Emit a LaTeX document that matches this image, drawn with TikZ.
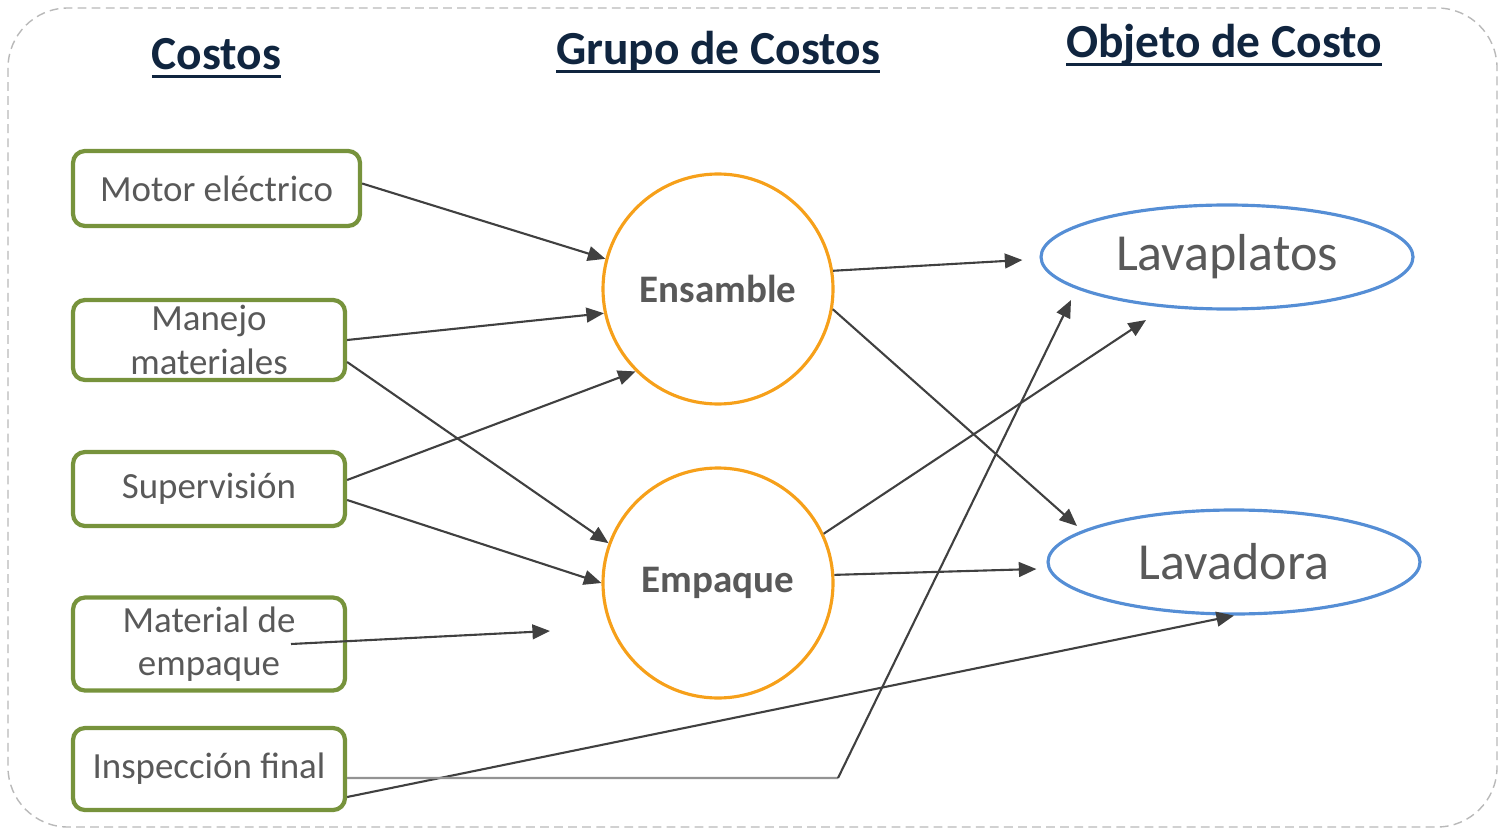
\documentclass[tikz,border=0pt]{standalone}
\usepackage{fontspec}
\setmainfont{Carlito}
\usetikzlibrary{shapes.geometric, arrows.meta}
\definecolor{navy}{HTML}{10253F}
\definecolor{txtgray}{HTML}{595959}
\definecolor{boxgreen}{HTML}{77933C}
\definecolor{poolorange}{HTML}{F6A01A}
\definecolor{objblue}{HTML}{558ED5}
\definecolor{linegray}{HTML}{404040}
\newcommand{\headerline}[1]{\leavevmode\setbox0=\hbox{#1}\rlap{\copy0}\raisebox{-2.4pt}{\rule{\wd0}{1.1pt}}}
\tikzstyle{header} = [text=navy, anchor=base, font=\bfseries\fontsize{13.5}{16}\selectfont]
\tikzstyle{costbox} = [rectangle, rounded corners=0.12cm, minimum width=2.72cm, text centered, align=center, draw=boxgreen, line width=1.2pt, text=txtgray, inner sep=0pt, font=\fontsize{10.5}{12.3}\selectfont]
\tikzstyle{pool} = [circle, minimum size=2.3cm, draw=poolorange, line width=0.9pt, text=txtgray, inner sep=0pt, font=\bfseries\fontsize{11.1}{13}\selectfont]
\tikzstyle{costobj} = [ellipse, minimum width=3.72cm, minimum height=1.04cm, draw=objblue, line width=0.9pt, text=txtgray, inner sep=0pt, font=\fontsize{14.8}{17}\selectfont]
\tikzstyle{arrow} = [line width=0.6pt, draw=linegray, -{Triangle[length=5pt,width=4.2pt]}]

\begin{document}
\begin{tikzpicture}
			\useasboundingbox (0,0) rectangle (14.99,-8.29);
			\draw [gray!55, line width=0.4pt, dash pattern=on 2.5pt off 1.5pt, rounded corners=0.6cm] (0.08,-0.08) rectangle (14.97,-8.27);
			
			\node (hcostos) [header] at (2.165,-0.70) {\headerline{Costos}};
			\node (hgrupo) [header] at (7.18,-0.65) {\headerline{Grupo de Costos}};
			\node (hobjeto) [header] at (12.24,-0.58) {\headerline{Objeto de Costo}};
			
			\node (motor) [costbox, minimum width=2.87cm, minimum height=0.75cm] at (2.165,-1.885) {Motor eléctrico};
			\node (manejo) [costbox, minimum height=0.80cm, below of=motor, node distance=1.515cm, xshift=-0.075cm] {Manejo\\materiales};
			\node (sup) [costbox, minimum height=0.74cm, below of=manejo, node distance=1.49cm] {Supervisión};
			\node (matemp) [costbox, minimum height=0.93cm, below of=sup, node distance=1.55cm] {Material de\\empaque};
			\node (insp) [costbox, minimum height=0.82cm, below of=matemp, node distance=1.25cm] {Inspección final};
			
			\node (ens) [pool] at (7.18,-2.89) {Ensamble};
			\node (emp) [pool, below of=ens, node distance=2.94cm] {Empaque};
			
			\node (lavp) [costobj] at (12.27,-2.57) {Lavaplatos};
			\node (lavd) [costobj, below of=lavp, node distance=3.05cm, xshift=0.07cm] {Lavadora};
			
			\coordinate (matend) at (5.50,-6.31);
			\coordinate (bend) at (8.38,-7.78);
			
			\draw [arrow] ([yshift=0.05cm]motor.east) -- (ens.165);
			\draw [arrow] (manejo.east) -- (ens.192);
			\draw [arrow] ([yshift=-0.22cm]manejo.east) -- (emp.160);
			\draw [arrow] ([yshift=0.09cm]sup.east) -- (ens.225);
			\draw [arrow] ([yshift=-0.11cm]sup.east) -- (emp.180);
			\draw [arrow] ([xshift=0.82cm]matemp.center) -- (matend);
			\draw [arrow] ([yshift=-0.28cm]insp.east) -- (lavd.south);
			\draw [line width=0.6pt, draw=gray!85] ([yshift=-0.09cm]insp.east) -- (bend);
			\draw [arrow] (bend) -- ([xshift=-1.56cm, yshift=-0.43cm]lavp.center);
			
			\draw [arrow] (ens.9) -- ([xshift=-0.17cm, yshift=-0.03cm]lavp.west);
			\draw [arrow] (ens.-10) -- ([xshift=-1.57cm, yshift=0.36cm]lavd.center);
			\draw [arrow] (emp.25) -- ([xshift=-0.81cm, yshift=-0.63cm]lavp.center);
			\draw [arrow] (emp.4) -- ([xshift=-0.10cm, yshift=-0.07cm]lavd.west);
		\end{tikzpicture}
\end{document}
